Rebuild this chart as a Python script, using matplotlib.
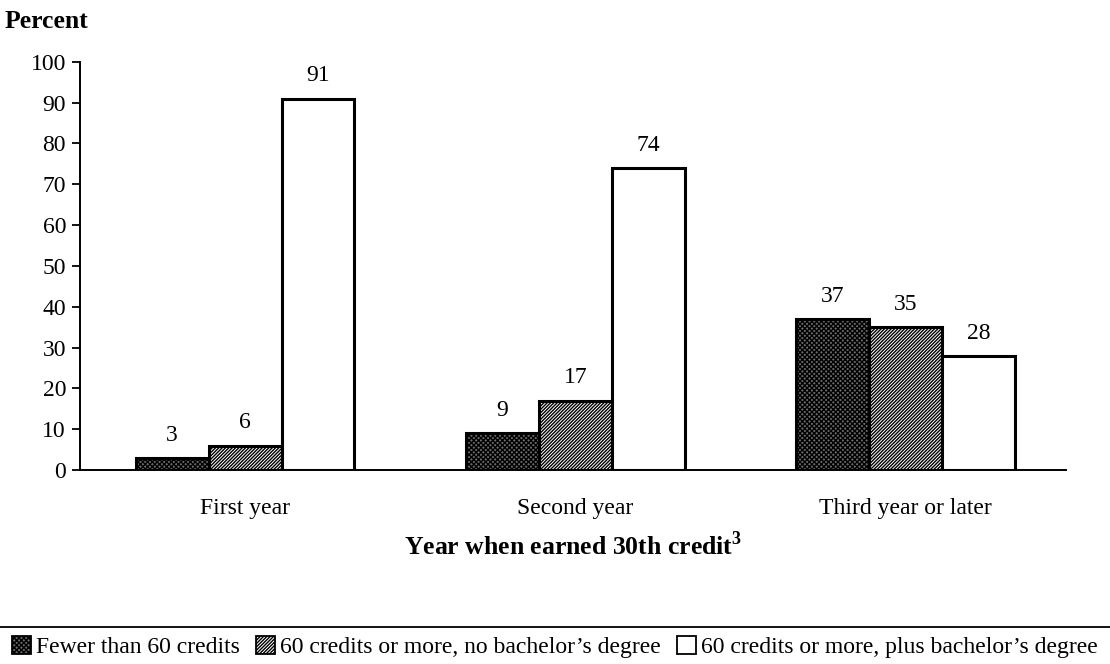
import numpy as np
import matplotlib.pyplot as plt
from matplotlib.lines import Line2D
from matplotlib.patches import Patch

plt.rcParams['font.family'] = ['Liberation Serif', 'DejaVu Serif']
plt.rcParams['mathtext.fontset'] = 'custom'
plt.rcParams['mathtext.rm'] = 'Liberation Serif'
plt.rcParams['mathtext.bf'] = 'Liberation Serif:bold'
plt.rcParams['hatch.linewidth'] = 1.0

# data
categories = ['First year', 'Second year', 'Third year or later']
series_names = ['Fewer than 60 credits',
                '60 credits or more, no bachelor\u2019s degree',
                '60 credits or more, plus bachelor\u2019s degree']
fewer_60 = [3, 9, 37]
no_degree = [6, 17, 35]
with_degree = [91, 74, 28]
yticks = [0, 10, 20, 30, 40, 50, 60, 70, 80, 90, 100]

fig = plt.figure(figsize=(11.1, 6.64), dpi=100)
ax = fig.add_axes([0.072, 0.292, 0.888, 0.615])

x = np.arange(len(categories))
w = 0.221
styles = [dict(facecolor='#6a6a6a', hatch='xxxxxxx'),
          dict(facecolor='white', hatch='//////////'),
          dict(facecolor='white', hatch='')]
series = [fewer_60, no_degree, with_degree]
for i, (vals, st) in enumerate(zip(series, styles)):
    pos = x + (i - 1) * w
    ax.bar(pos, vals, width=w, edgecolor='black', linewidth=2.2, **st)
    for p, v in zip(pos, vals):
        ax.text(p, v + 3, str(v), ha='center', va='bottom', fontsize=17)

ax.set_xlim(-0.5, 2.485)
ax.set_ylim(0, 100)
ax.set_yticks(yticks)
ax.set_xticks(x)
ax.set_xticklabels(categories, fontsize=17)
ax.tick_params(axis='y', labelsize=17, length=6, width=1.3, direction='out',
               pad=4)
ax.tick_params(axis='x', length=0, pad=20)
ax.spines['top'].set_visible(False)
ax.spines['right'].set_visible(False)
ax.spines['left'].set_linewidth(1.4)
ax.spines['bottom'].set_linewidth(1.4)
ax.set_xlabel('Year when earned 30th credit$^\\mathbf{3}$', fontsize=18.5,
              fontweight='bold', labelpad=9)
fig.text(0.004, 0.967, 'Percent', fontsize=18.5, fontweight='bold',
         ha='left', va='center')

# rule above legend
fig.add_artist(Line2D([0.0, 1.0], [0.056, 0.056], color='black',
                      linewidth=1.3, transform=fig.transFigure))

handles = [Patch(edgecolor='black', linewidth=1.3, **st) for st in styles]
fig.legend(handles, series_names, loc='center', bbox_to_anchor=(0.5, 0.026),
           ncol=3, frameon=False, fontsize=17, handlelength=0.8,
           handleheight=0.8, handletextpad=0.2, columnspacing=0.7,
           borderpad=0.1)

fig.savefig('out.png', dpi=100)
